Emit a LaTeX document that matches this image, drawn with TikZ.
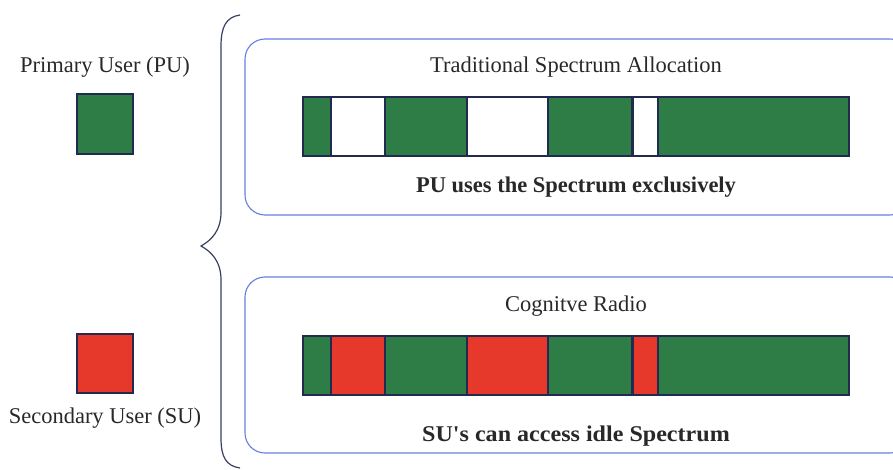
\documentclass[tikz,border=0pt]{standalone}
\usepackage{fontspec}
\setmainfont{Liberation Serif}
\definecolor{pugreen}{RGB}{47,125,70}
\definecolor{sured}{RGB}{230,57,43}
\definecolor{edge}{RGB}{35,42,80}
\definecolor{boxblue}{RGB}{105,125,225}
\definecolor{bracecol}{RGB}{55,65,95}
\definecolor{txt}{RGB}{40,40,40}
\begin{document}
\begin{tikzpicture}[x=1pt,y=-1pt,
  seg/.style={draw=edge,line width=1.2pt},
  panel/.style={draw=boxblue,line width=1.1pt,rounded corners=20pt},
  lbl/.style={font=\fontsize{22.5}{26}\selectfont,text=txt,inner sep=0pt},
  blbl/.style={font=\fontsize{22.5}{26}\selectfont\bfseries,text=txt,inner sep=0pt}]
\useasboundingbox (0,0) rectangle (893,470);
% legend
\node[lbl] (pulbl) at (105,67) {Primary User (PU)};
\path[seg,fill=pugreen] (77,94) rectangle (133,154);
\path[seg,fill=sured] (77,334) rectangle (133,393);
\node[lbl] (sulbl) at (105,418) {Secondary User (SU)};
% brace
\draw[bracecol,line width=1.2pt] (240,15) .. controls (226,17) and (221,27) .. (221,46)
  -- (221,212) .. controls (221,232) and (210,241) .. (201,246)
  .. controls (210,251) and (221,260) .. (221,280)
  -- (221,438) .. controls (221,457) and (226,466) .. (240,468);
% panels
\draw[panel] (245,39) rectangle (910,215);
\draw[panel] (245,277) rectangle (910,453);
\node[lbl] (t1) at (576,67) {Traditional Spectrum Allocation};
\node[blbl] (b1) at (576,187) {PU uses the Spectrum exclusively};
\node[lbl] (t2) at (576,306) {Cognitve Radio};
\node[blbl] (b2) at (576,436) {\scalebox{1.07}[1]{SU\XeTeXglyph\XeTeXcharglyph"27 s can access idle Spectrum}};
% bar 1
\path[seg,fill=pugreen] (303,97) rectangle (331,156);
\path[seg,fill=white] (331,97) rectangle (385,156);
\path[seg,fill=pugreen] (385,97) rectangle (467,156);
\path[seg,fill=white] (467,97) rectangle (548,156);
\path[seg,fill=pugreen] (548,97) rectangle (632,156);
\path[seg,fill=white] (633,97) rectangle (658,156);
\path[seg,fill=pugreen] (658,97) rectangle (849,156);
% bar 2
\path[seg,fill=pugreen] (303,336) rectangle (331,395);
\path[seg,fill=sured] (331,336) rectangle (385,395);
\path[seg,fill=pugreen] (385,336) rectangle (467,395);
\path[seg,fill=sured] (467,336) rectangle (548,395);
\path[seg,fill=pugreen] (548,336) rectangle (632,395);
\path[seg,fill=sured] (633,336) rectangle (658,395);
\path[seg,fill=pugreen] (658,336) rectangle (849,395);
\end{tikzpicture}
\end{document}
